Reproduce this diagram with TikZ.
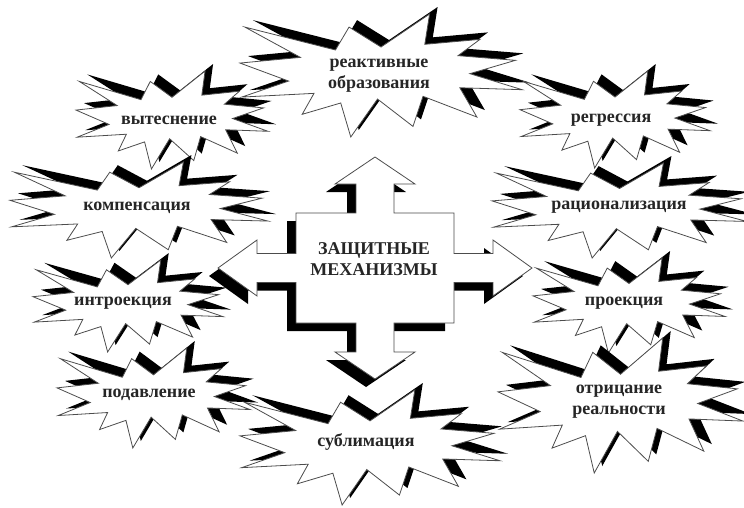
\documentclass[tikz,border=0pt]{standalone}
\usepackage{fontspec}
\setmainfont{Liberation Serif}
\tikzset{
  lbl/.style={font=\bfseries\fontsize{18}{21}\selectfont, text=black!85, align=center, inner sep=0pt},
  outl/.style={fill=white, draw=black!70, line width=0.8pt},
  shd/.style={fill=black},
}
\newcommand\boompath[1]{\path[#1] (0.5,0.2685) -- (0.6723,0) -- (0.6553,0.2465) -- (0.8509,0.2063) -- (0.7732,0.3387) -- (0.9767,0.3767) -- (0.8151,0.4850) -- (1,0.6153) -- (0.7795,0.5994) -- (0.84,0.8377) -- (0.6491,0.6693) -- (0.6133,0.9137) -- (0.4876,0.6914) -- (0.3928,1) -- (0.3572,0.7235) -- (0.2205,0.8156) -- (0.2624,0.6452) -- (0.0063,0.6753) -- (0.1723,0.5451) -- (0,0.3988) -- (0.2142,0.3526) -- (0.0171,0.1063) -- (0.3385,0.2926) -- (0.3867,0.1063) -- cycle;}
\newcommand\boom[8]{%
  \begin{scope}[shift={({#1+8},{#2-7})},xscale=#3,yscale=#4]\boompath{shd}\end{scope}
  \begin{scope}[shift={(#1,#2)},xscale=#3,yscale=#4]\boompath{outl}\end{scope}
  \node[lbl] (#5) at (#7,#8) {#6};}
\newcommand\crosspath[1]{\path[#1] (0,-111) -- (40,-84) -- (19,-84) -- (19,-55) -- (79,-55) -- (79,-14.5) -- (118,-14.5) -- (118,-28) -- (157,0) -- (118,28) -- (118,14.5) -- (79,14.5) -- (79,55) -- (19,55) -- (19,84) -- (40,84) -- (0,111) -- (-40,84) -- (-19,84) -- (-19,55) -- (-79,55) -- (-79,14.5) -- (-118,14.5) -- (-118,28) -- (-157,0) -- (-118,-28) -- (-118,-14.5) -- (-79,-14.5) -- (-79,-55) -- (-19,-55) -- (-19,-84) -- (-40,-84) -- cycle;}
\begin{document}
\begin{tikzpicture}[x=1pt,y=-1pt]
\useasboundingbox (0,0) rectangle (744,507);
\fill[white] (0,0) rectangle (744,507);
\boom{240}{14}{282}{123}{reakt}{реактивные\\образования}{379}{76}
\boom{76}{71}{192}{98}{vyt}{вытеснение}{169}{120}
\boom{520}{71}{190}{97}{regr}{регрессия}{611}{120}
\boom{10}{162}{258}{96}{komp}{компенсация}{137}{208}
\boom{492}{163}{255}{95}{rac}{рационализация}{619}{207}
\boom{33}{260}{190}{92}{intr}{интроекция}{123}{303}
\boom{533}{258}{192}{95}{proek}{проекция}{624}{303}
\boom{57}{348}{193}{100}{podav}{подавление}{149}{395}
\boom{498}{338}{245}{135}{otric}{отрицание\\реальности}{619}{402}
\boom{240}{390}{260}{115}{subl}{сублимация}{366}{442}
\begin{scope}[shift={(366,276)}]\crosspath{shd}\end{scope}
\begin{scope}[shift={(375,268)}]\crosspath{outl}\end{scope}
\node[lbl] (zm) at (374,259) {ЗАЩИТНЫЕ\\МЕХАНИЗМЫ};
\end{tikzpicture}
\end{document}
